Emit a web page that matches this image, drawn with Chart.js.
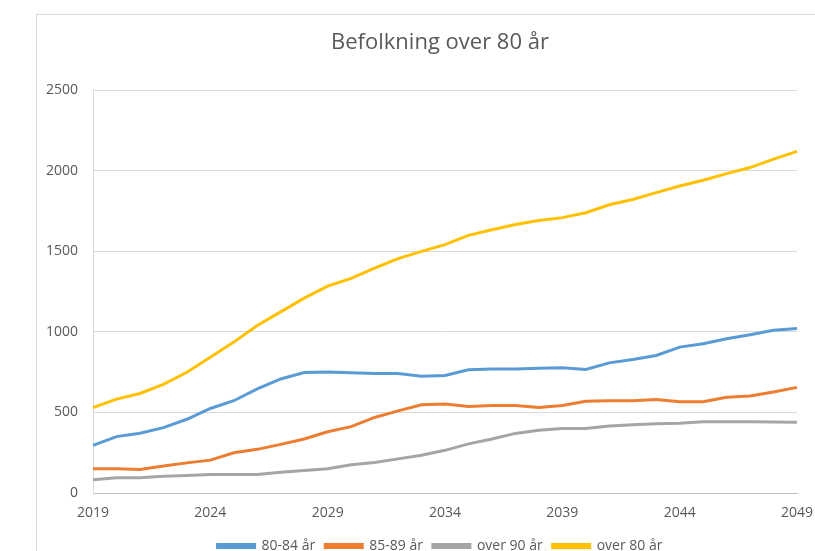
<!DOCTYPE html>
<html>
<head>
<meta charset="utf-8">
<script src="https://cdn.jsdelivr.net/npm/chart.js@4/dist/chart.umd.min.js"></script>
<style>
  html, body { margin: 0; padding: 0; background: #ffffff; }
  body { width: 815px; height: 551px; position: relative; overflow: hidden; }
  #frame { position: absolute; left: 36px; top: 14px; width: 900px; height: 600px;
           border-left: 1px solid #d9d9d9; border-top: 1px solid #d9d9d9; }
  #wrap { position: absolute; left: 0; top: 0; width: 815px; height: 563px; }
</style>
</head>
<body>
<div id="frame"></div>
<div id="wrap"><canvas id="c" width="815" height="563"></canvas></div>
<script>
const years = [2019,2020,2021,2022,2023,2024,2025,2026,2027,2028,2029,2030,2031,2032,2033,2034,2035,2036,2037,2038,2039,2040,2041,2042,2043,2044,2045,2046,2047,2048,2049];
const seriesNames = ['80-84 år', '85-89 år', 'over 90 år', 'over 80 år'];
const age80_84 = [296,350,371,406,458,525,573,646,708,748,752,746,742,742,725,730,765,770,770,775,777,767,808,829,854,906,927,958,983,1010,1021];
const age85_89 = [150,150,146,167,187,204,250,271,302,335,380,412,469,510,548,552,537,544,544,531,544,570,573,573,580,567,567,594,602,627,656];
const over90   = [83,94,94,104,108,115,115,115,129,140,150,175,190,212,235,265,305,335,370,390,400,400,416,424,430,433,442,442,442,441,440];
const over80   = [530,583,618,675,750,843,937,1040,1125,1210,1285,1333,1396,1455,1500,1542,1600,1635,1667,1692,1710,1740,1790,1823,1865,1906,1942,1983,2021,2073,2121];
const yTickStep = 500;
const yMax = 2500;
const colors = ['#5b9bd5', '#ed7d31', '#a5a5a5', '#ffc000'];

const FONT = "'Liberation Sans Narrow', 'Open Sans', sans-serif";
const values = [age80_84, age85_89, over90, over80];

new Chart(document.getElementById('c'), {
  type: 'line',
  data: {
    labels: years,
    datasets: values.map((v, i) => ({
      label: seriesNames[i],
      data: v,
      borderColor: colors[i],
      backgroundColor: colors[i],
      borderWidth: 3,
      pointRadius: 0,
      tension: 0,
      fill: false
    }))
  },
  options: {
    responsive: false,
    animation: false,
    layout: { padding: { left: 83, right: 18, top: 30, bottom: 0 } },
    plugins: {
      title: {
        display: true,
        text: 'Befolkning over 80 år',
        color: '#595959',
        font: { family: FONT, size: 22, weight: 'normal' },
        padding: { top: 0, bottom: 34 }
      },
      legend: {
        position: 'bottom',
        labels: {
          color: '#595959',
          font: { family: FONT, size: 14 },
          boxWidth: 37,
          boxHeight: 3,
          padding: 10
        }
      },
      tooltip: { enabled: false }
    },
    scales: {
      x: {
        type: 'category',
        offset: false,
        grid: { display: false, drawTicks: false },
        border: { display: true, color: '#bfbfbf', width: 1 },
        ticks: {
          color: '#595959',
          font: { family: FONT, size: 14 },
          autoSkip: false,
          maxRotation: 0,
          padding: 12,
          callback: function(val, idx) {
            const y = years[idx];
            return ((y - years[0]) % 5 === 0) ? String(y) : null;
          }
        },
        afterFit: function(scale) {
          scale.height = 36;
          scale.paddingLeft = 0;
          scale.paddingRight = 0;
        }
      },
      y: {
        min: 0,
        max: yMax,
        grid: { color: '#d9d9d9', drawTicks: false },
        border: { display: true, color: '#d9d9d9', width: 1 },
        ticks: {
          stepSize: yTickStep,
          color: '#595959',
          font: { family: FONT, size: 14 },
          padding: 15,
          callback: function(v) { return String(v); }
        },
        afterFit: function(scale) {
          scale.width = 10;
          scale.paddingTop = 0;
          scale.paddingBottom = 0;
          scale._computeLabelArea = function() { return undefined; };
        }
      }
    }
  }
});
</script>
</body>
</html>
